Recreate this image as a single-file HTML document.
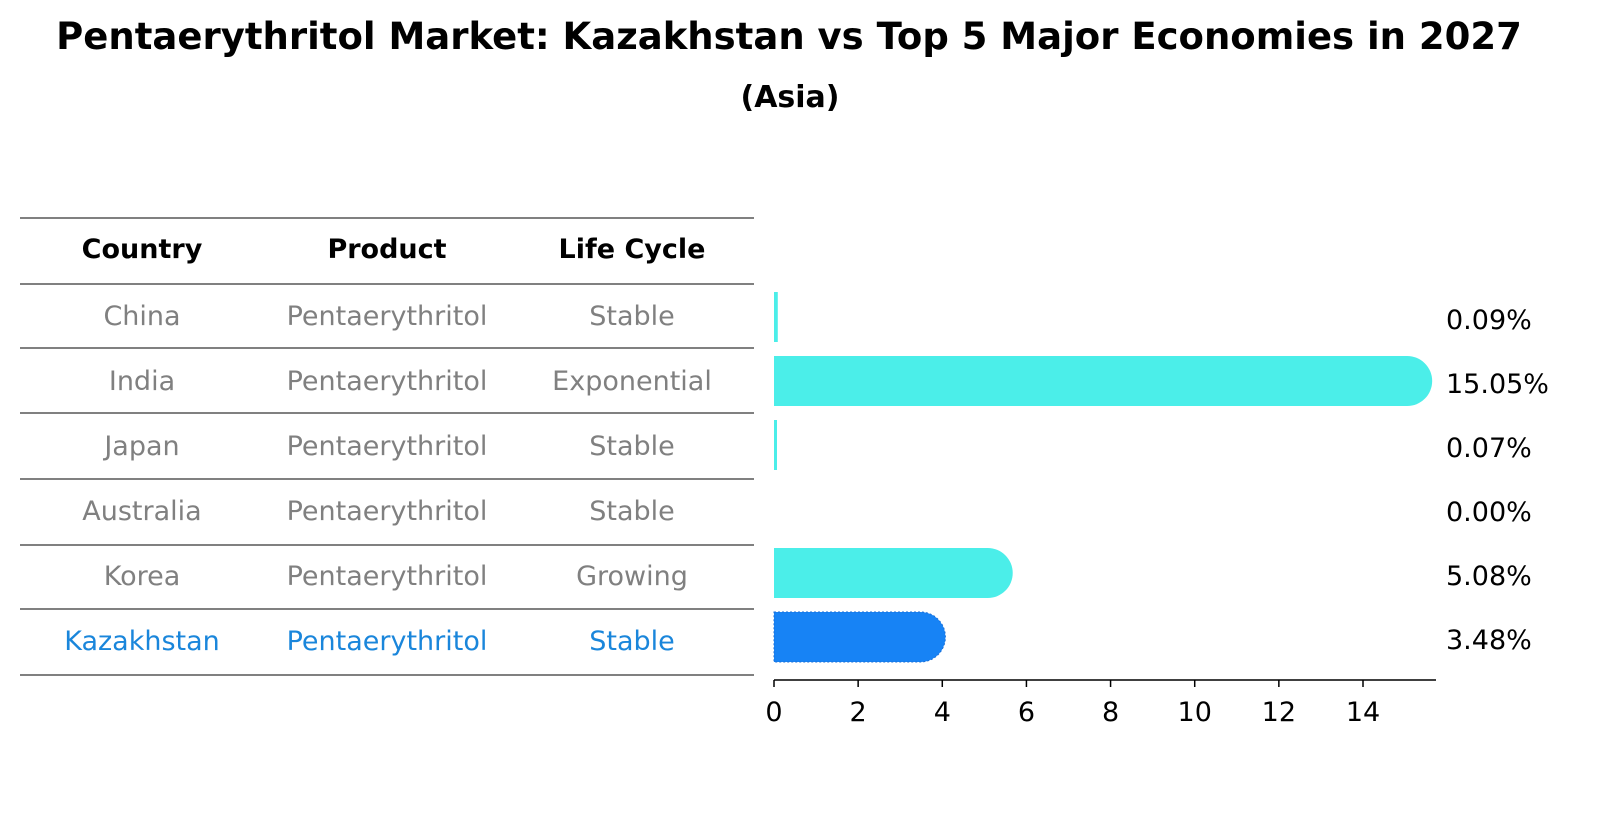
<!DOCTYPE html>
<html><head><meta charset="utf-8"><style>
html,body{margin:0;padding:0;background:#fff;overflow:hidden;width:1604px;height:823px;}
svg{display:block;}
</style></head><body>
<svg width="1604" height="823" viewBox="0 0 1604 823" xmlns="http://www.w3.org/2000/svg" font-family="DejaVu Sans, Liberation Sans, sans-serif">
<text x="789" y="49" text-anchor="middle" font-size="37px" font-weight="bold">Pentaerythritol Market: Kazakhstan vs Top 5 Major Economies in 2027</text>
<text x="790" y="107" text-anchor="middle" font-size="30px" font-weight="bold">(Asia)</text>
<g id="table"></g>
<g id="bars"></g>
</svg>
<script>
const countries=["China","India","Japan","Australia","Korea","Kazakhstan"];
const products=["Pentaerythritol","Pentaerythritol","Pentaerythritol","Pentaerythritol","Pentaerythritol","Pentaerythritol"];
const cycles=["Stable","Exponential","Stable","Stable","Growing","Stable"];
const values=[0.09,15.05,0.07,0.00,5.08,3.48];
const labels=["0.09%","15.05%","0.07%","0.00%","5.08%","3.48%"];
const ticks=[0,2,4,6,8,10,12,14];
const NS="http://www.w3.org/2000/svg";
function mk(t,a,p){const e=document.createElementNS(NS,t);for(const k in a)e.setAttribute(k,a[k]);p.appendChild(e);return e;}
const tb=document.getElementById('table'),bg=document.getElementById('bars');
const lineY=[218,284,348,413,479,545,609,675];
lineY.forEach(y=>{const l=mk('line',{x1:20,x2:754,y1:y,y2:y,stroke:'#000','stroke-width':1},tb);

});
const cx=[142,387,632];
["Country","Product","Life Cycle"].forEach((h,i)=>{const t=mk('text',{x:cx[i],y:258,'text-anchor':'middle','font-size':'27px','font-weight':'bold'},tb);t.textContent=h;

});
const rowY=i=>316+i*65;
countries.forEach((c,i)=>{const col=i===countries.length-1?'#1a86db':'#808080';
[c,products[i],cycles[i]].forEach((v,j)=>{const t=mk('text',{x:cx[j],y:rowY(i)+9,'text-anchor':'middle','font-size':'27px',fill:col},tb);t.textContent=v;

});});
const x0=774,ux=(1363-774)/14;
const X=v=>x0+v*ux;
const by=i=>317+i*64;
const h=50,r=25;
values.forEach((v,i)=>{const col=i===values.length-1?'#1783f5':'#4beee9';
const w=X(v)-x0;const y=by(i)-h/2;let el;
if(v<=0){}else if(w<r){el=mk('rect',{x:x0,y:y,width:Math.max(w,3),height:h,fill:col},bg);}
else{el=mk('path',{d:`M${x0},${y}H${x0+w}A${r},${r} 0 0 1 ${x0+w},${y+h}H${x0}Z`,fill:col},bg);}
if(el){

if(i===values.length-1){el.setAttribute('stroke','#1a6fd8');el.setAttribute('stroke-dasharray','2,2');}}
const t=mk('text',{x:1446,y:by(i)+12,'font-size':'27px'},bg);t.textContent=labels[i];

});
const ax=mk('line',{x1:x0,x2:1436,y1:680,y2:680,stroke:'#000','stroke-width':1.5},bg);


ticks.forEach(tv=>{const tk=mk('line',{x1:X(tv),x2:X(tv),y1:680,y2:687,stroke:'#000','stroke-width':1.5},bg);


const t=mk('text',{x:X(tv),y:721,'text-anchor':'middle','font-size':'27px'},bg);t.textContent=tv;

});
</script>
</body></html>
